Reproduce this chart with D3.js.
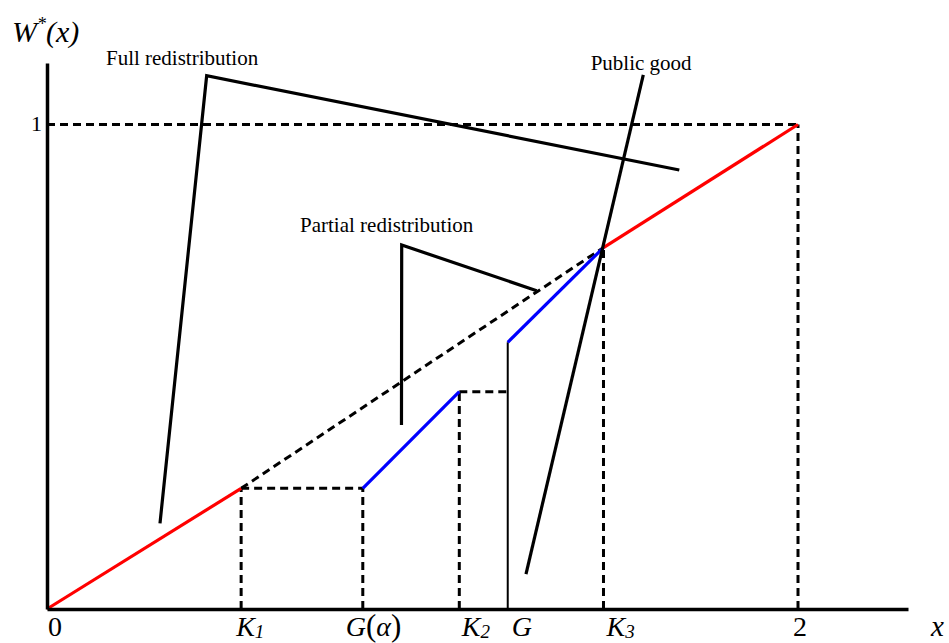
<!DOCTYPE html>
<html>
<head>
<meta charset="utf-8">
<script src="https://cdn.jsdelivr.net/npm/d3@7"></script>
<style>
  html, body { margin: 0; padding: 0; background: #fff; }
  svg { display: block; font-family: "Liberation Serif", "Times New Roman", serif; }
</style>
</head>
<body>
<svg id="chart" width="949" height="643"></svg>
<script>
// ---------- data ----------
const xTickValues = [0, 0.517, 0.841, 1.098, 1.227, 1.482, 2];
const xTickLabels = ["0", "K1", "G(α)", "K2", "G", "K3", "2"];
const yTickValues = [1];
const yTickLabels = ["1"];

// red: full redistribution segments W*(x)
const redLowX = [0, 0.517];
const redLowY = [0, 0.249];
const redHighX = [1.482, 2];
const redHighY = [0.746, 1];
// blue: partial redistribution segments
const blueLowX = [0.841, 1.098];
const blueLowY = [0.249, 0.4485];
const blueHighX = [1.227, 1.482];
const blueHighY = [0.5505, 0.746];
// dashed diagonal continuation
const diagX = [0.517, 1.482];
const diagY = [0.249, 0.746];
// G jump (solid vertical)
const jumpX = [1.227, 1.227];
const jumpY = [0, 0.5505];

// dashed guide lines [x1,y1,x2,y2]
const guideX1 = [0.517, 0.517, 0.841, 1.098, 1.098, 1.482, 0, 2];
const guideY1 = [0, 0.249, 0, 0, 0.4485, 0, 1, 0];
const guideX2 = [0.517, 0.841, 0.841, 1.098, 1.227, 1.482, 2, 2];
const guideY2 = [0.249, 0.249, 0.249, 0.4485, 0.4485, 0.746, 1, 1];

// annotation labels and pointer polylines
const annLabels = ["Full redistribution", "Partial redistribution", "Public good"];
const annLabelX = [0.157, 0.6738, 1.4479];
const annLabelY = [1.1238, 0.7787, 1.1125];
const pointerX = [[0.3009, 0.4252, 1.6839], [0.944, 0.9446, 1.3041], [1.588, 1.2756]];
const pointerY = [[0.1769, 1.1007, 0.9061], [0.3798, 0.7513, 0.657], [1.1022, 0.0722]];

// ---------- layout ----------
const svg = d3.select("#chart");
const ox = 47, oy = 609;
const x = d3.scaleLinear().domain([0, 2]).range([ox, 798]);
const y = d3.scaleLinear().domain([0, 1]).range([oy, 124.5]);
const xMax = x.invert(908), yMax = y.invert(63);

const line = d3.line().x(d => x(d[0])).y(d => y(d[1]));
const zip = (xs, ys) => xs.map((v, i) => [v, ys[i]]);

const dash = "8,5";

// dashed guides
const guides = guideX1.map((v, i) => [[v, guideY1[i]], [guideX2[i], guideY2[i]]]);
svg.append("g").selectAll("path").data(guides).join("path")
  .attr("d", line).attr("fill", "none").attr("stroke", "#000")
  .attr("stroke-width", 3).attr("stroke-dasharray", dash);

// dashed diagonal
svg.append("path").attr("d", line(zip(diagX, diagY)))
  .attr("fill", "none").attr("stroke", "#000").attr("stroke-width", 3)
  .attr("stroke-dasharray", dash);

// G jump
svg.append("path").attr("d", line(zip(jumpX, jumpY)))
  .attr("fill", "none").attr("stroke", "#000").attr("stroke-width", 2);

// red & blue segments
[[redLowX, redLowY, "#ff0000"], [redHighX, redHighY, "#ff0000"],
 [blueLowX, blueLowY, "#0000ff"], [blueHighX, blueHighY, "#0000ff"]].forEach(([xs, ys, c]) => {
  svg.append("path").attr("d", line(zip(xs, ys)))
    .attr("fill", "none").attr("stroke", c).attr("stroke-width", 3.2);
});

// pointer lines
pointerX.forEach((xs, i) => {
  svg.append("path").attr("d", line(zip(xs, pointerY[i])))
    .attr("fill", "none").attr("stroke", "#000").attr("stroke-width", 3.2)
    .attr("stroke-linejoin", "miter");
});

// annotation labels
annLabels.forEach((t, i) => {
  svg.append("text").attr("x", x(annLabelX[i])).attr("y", y(annLabelY[i]))
    .attr("font-size", 21).attr("fill", "#000").text(t);
});

// axes (D3 axis generators, domain lines thick, no ticks)
const xAxis = d3.axisBottom(x.copy().domain([0, xMax]).range([ox, 908])).tickValues([]).tickSizeOuter(0);
const yAxis = d3.axisLeft(y.copy().domain([0, yMax]).range([oy, 63])).tickValues([]).tickSizeOuter(0);
svg.append("g").attr("transform", `translate(0,${oy})`).call(xAxis)
  .select(".domain").attr("stroke", "#000").attr("stroke-width", 3.5);
svg.append("g").attr("transform", `translate(${ox},0)`).call(yAxis)
  .select(".domain").attr("stroke", "#000").attr("stroke-width", 3.5);

// x tick labels
const labelDx = [1, -5, -17, 2.5, 4, 3, -5];
const labelBase = 636;
const xl = svg.append("g").attr("font-size", 28).attr("fill", "#000");
xTickValues.forEach((v, i) => {
  const lab = xTickLabels[i];
  const t = xl.append("text").attr("x", x(v) + labelDx[i]).attr("y", labelBase);
  if (/^K\d$/.test(lab)) {
    t.append("tspan").attr("font-style", "italic").text("K");
    t.append("tspan").attr("font-style", "italic").attr("font-size", 19).attr("dy", 2).text(lab[1]);
  } else if (lab === "G(α)") {
    t.append("tspan").attr("font-style", "italic").text("G");
    t.append("tspan").attr("font-size", 31).text("(");
    t.append("tspan").attr("font-style", "italic").text("α");
    t.append("tspan").attr("font-size", 31).text(")");
  } else if (lab === "G") {
    t.append("tspan").attr("font-style", "italic").text("G");
  } else {
    t.text(lab);
  }
});

// y tick labels
yTickValues.forEach((v, i) => {
  svg.append("text").attr("x", 42).attr("y", y(v) + 6).attr("text-anchor", "end")
    .attr("font-size", 22).text(yTickLabels[i]);
});

// axis titles
const yt = svg.append("text").attr("x", 12).attr("y", 42).attr("font-size", 30).attr("font-style", "italic");
yt.append("tspan").text("W");
yt.append("tspan").attr("font-size", 18).attr("dy", -12).text("*");
yt.append("tspan").attr("dy", 12).text("(x)");

svg.append("text").attr("x", 931).attr("y", labelBase).attr("font-size", 29)
  .attr("font-style", "italic").text("x");
</script>
</body>
</html>
